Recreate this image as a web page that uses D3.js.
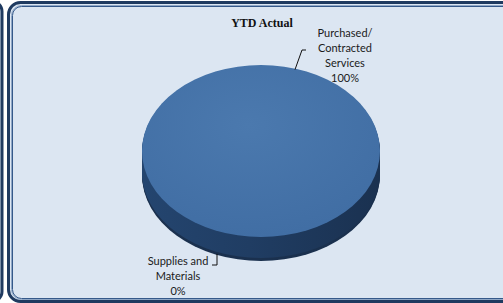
<!DOCTYPE html>
<html lang="en">
<head>
<meta charset="UTF-8">
<script src="https://cdn.jsdelivr.net/npm/d3@7"></script>
<title>YTD Actual</title>
<style>
  html, body { margin: 0; padding: 0; background: #ffffff; }
  svg { display: block; }
  .lbl { font-family: Lato, "Open Sans", sans-serif; font-size: 11px; fill: #1a1a1a; }
  .ttl { font-family: "Liberation Serif", "DejaVu Serif", serif; font-size: 12px; font-weight: bold; fill: #111; }
</style>
</head>
<body>
<div id="chart"></div>
<script>
// data
var categories = ['Purchased/Contracted Services', 'Supplies and Materials'];
var labelLines = [['Purchased/', 'Contracted', 'Services'], ['Supplies and', 'Materials']];
var values = [100, 0];
var chartTitle = 'YTD Actual';

var W = 503, H = 303;
var svg = d3.select('#chart').append('svg')
    .attr('width', W).attr('height', H);

var defs = svg.append('defs');
var sideGrad = defs.append('linearGradient').attr('id', 'side')
    .attr('x1', 0).attr('x2', 1).attr('y1', 0).attr('y2', 0);
sideGrad.append('stop').attr('offset', '0%').attr('stop-color', '#24456f');
sideGrad.append('stop').attr('offset', '45%').attr('stop-color', '#203d63');
sideGrad.append('stop').attr('offset', '100%').attr('stop-color', '#1a3150');

var topGrad = defs.append('radialGradient').attr('id', 'topface')
    .attr('cx', '45%').attr('cy', '35%').attr('r', '65%');
topGrad.append('stop').attr('offset', '0%').attr('stop-color', '#4b79ae');
topGrad.append('stop').attr('offset', '100%').attr('stop-color', '#416ea4');

// left neighbour panel (cut off)
svg.append('rect').attr('x', -60).attr('y', 1.5).attr('width', 62).attr('height', 300)
    .attr('rx', 10).attr('fill', '#dce6f2').attr('stroke', '#1f3a60').attr('stroke-width', 3);

// main panel, double border
svg.append('rect').attr('x', 8.5).attr('y', 2.5).attr('width', 520).attr('height', 299)
    .attr('rx', 12).attr('fill', '#dce6f2').attr('stroke', '#1f3a60').attr('stroke-width', 3);
svg.append('rect').attr('x', 11.5).attr('y', 5.5).attr('width', 520).attr('height', 294)
    .attr('rx', 10).attr('fill', 'none').attr('stroke', '#8fa7c6').attr('stroke-width', 1);
svg.append('rect').attr('x', 12.5).attr('y', 6.5).attr('width', 520).attr('height', 292)
    .attr('rx', 9).attr('fill', 'none').attr('stroke', '#35598a').attr('stroke-width', 1);

// title
svg.append('text').attr('class', 'ttl').attr('x', 262).attr('y', 27)
    .attr('text-anchor', 'middle').text(chartTitle);

// pie geometry
var cx = 261, cy = 151, rx = 119, ry = 86, depth = 24;
var pie = d3.pie().sort(null).value(function(d) { return d; });
var arcs = pie(values);
var arc = d3.arc().innerRadius(0).outerRadius(rx);

// side: stacked layers of the pie, squashed into an ellipse
var side = svg.append('g');
d3.range(depth, 0, -1).forEach(function(dz) {
  side.append('g')
      .attr('transform', 'translate(' + cx + ',' + (cy + dz) + ') scale(1,' + (ry / rx) + ')')
    .selectAll('path').data(arcs).enter().append('path')
      .attr('d', arc)
      .attr('fill', dz > depth - 3 ? '#1b314f' : 'url(#side)');
});

// top face
svg.append('g')
    .attr('transform', 'translate(' + cx + ',' + cy + ') scale(1,' + (ry / rx) + ')')
  .selectAll('path').data(arcs).enter().append('path')
    .attr('d', arc)
    .attr('fill', 'url(#topface)');

// labels
var fmt = function(v) { return Math.round(v / d3.sum(values) * 100) + '%'; };
var labelPos = [{x: 345, y: 37}, {x: 178, y: 265}];
var lineH = 15;

arcs.forEach(function(a, i) {
  var t = svg.append('text').attr('class', 'lbl').attr('text-anchor', 'middle');
  labelLines[i].concat([fmt(a.value)]).forEach(function(s, j) {
    t.append('tspan').attr('x', labelPos[i].x).attr('y', labelPos[i].y + j * lineH).text(s);
  });
});

// leader lines, ending on the pie rim
function rimY(x, lower) {
  var k = Math.sqrt(Math.max(0, 1 - Math.pow((x - cx) / rx, 2)));
  return lower ? cy + depth + ry * k : cy - ry * k;
}
var lineGen = d3.line();
var leaders = [
  [[295, rimY(295) + 1], [302, 50], [306, 50]],
  [[212, 265], [217, 265], [217, rimY(217, true) - 1]]
];
svg.selectAll('path.leader').data(leaders).enter().append('path')
    .attr('class', 'leader')
    .attr('d', lineGen)
    .attr('fill', 'none').attr('stroke', '#111').attr('stroke-width', 1);
</script>
</body>
</html>
